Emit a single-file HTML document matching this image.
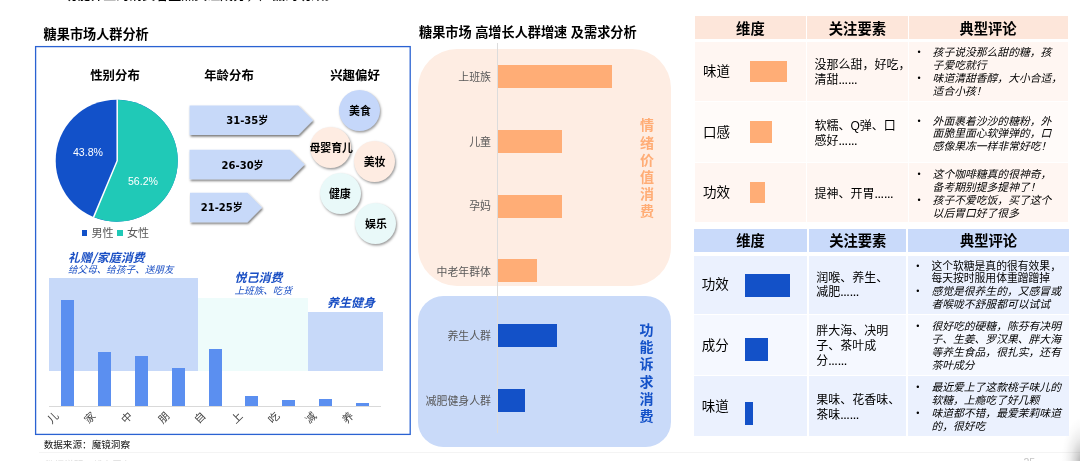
<!DOCTYPE html>
<html lang="zh-CN">
<head>
<meta charset="utf-8">
<title>糖果市场人群分析</title>
<style>
html,body{margin:0;padding:0}
body{width:1080px;height:461px;overflow:hidden;background:#fff;position:relative;
  font-family:"Liberation Sans","Noto Sans CJK SC",sans-serif;color:#000}
.a{position:absolute;white-space:nowrap;line-height:1}
.c{transform:translate(-50%,-50%)}
.r{transform:translate(-100%,-50%)}
.l{transform:translate(0,-50%)}
.b{font-weight:bold}
.i{font-style:italic}
.t13{font-size:13.15px;font-weight:bold}
.h12{font-size:12.4px;font-weight:bold}
.bar{position:absolute;background:#5b8ff0}
.xl{position:absolute;white-space:nowrap;line-height:1;font-size:10.8px;color:#444;transform:translate(-50%,-50%) rotate(-45deg)}
.circ{position:absolute;width:41px;height:41px;border-radius:50%;box-shadow:1px 1.5px 2.5px rgba(0,0,0,.4)}
.ct{font-size:10.9px;font-weight:bold}
.hb{position:absolute;left:498px;height:23px}
.hl{font-size:10.9px;color:#595959}
.vt{position:absolute;width:16px;text-align:center;font-weight:bold;font-size:14px;line-height:17.2px}

.td{position:absolute}
.hd{font-size:14.3px;font-weight:bold}
.d1{font-size:13.5px}
.d2{position:absolute;font-size:12px;line-height:14.8px;white-space:nowrap;transform:translate(0,-50%)}
.d2 em{font-style:normal;font-size:9.5px;font-weight:bold}
.d3{position:absolute;font-size:10.8px;line-height:12.85px;white-space:nowrap;transform:translate(0,-50%);font-style:italic}
.d3 u{position:absolute;left:-15.2px;text-decoration:none;font-style:normal;font-size:9px}
.d3 s{text-decoration:none;font-style:normal}

</style>
</head>
<body>
<!-- top clipped line -->
<div class="a" style="left:64.2px;top:-11.9px;font-size:13px;font-weight:500">功能养生的消费者重点关注成分，产品的功效。</div>

<!-- LEFT PANEL -->
<div class="a t13" style="left:43.6px;top:34.9px;transform:translate(0,-50%)">糖果市场人群分析</div>
<svg class="a" style="left:30px;top:40px" width="390" height="400" viewBox="30 40 390 400"><rect x="35.6" y="46.6" width="374.6" height="387.8" fill="none" stroke="#2a62d2" stroke-width="1.3"/></svg>

<div class="a c h12" style="left:115px;top:75.7px">性别分布</div>
<div class="a c h12" style="left:229px;top:75.7px">年龄分布</div>
<div class="a c h12" style="left:355px;top:75.7px">兴趣偏好</div>

<!-- pie -->
<svg class="a" style="left:50px;top:95px" width="135" height="135" viewBox="50 95 135 135">
  <circle cx="116.7" cy="160.7" r="61" fill="#1251c9"/>
  <path d="M117.2 160.7 L117.2 99.7 A61 61 0 1 1 93.6 217.1 Z" fill="#20c9b7"/>
  <path d="M117.2 99.2 L117.2 160.7 L93.4 217.6" fill="none" stroke="#fff" stroke-width="1.5"/>
</svg>
<div class="a c" style="left:88px;top:152.4px;font-size:10.6px;color:#fff">43.8%</div>
<div class="a c" style="left:143px;top:181.4px;font-size:10.6px;color:#fff">56.2%</div>
<div class="a" style="left:82px;top:230.2px;width:5.4px;height:5.4px;background:#1251c9"></div><div class="a l" style="left:91.4px;top:234.1px;font-size:11.1px;color:#595959">男性</div><div class="a" style="left:117.3px;top:230.2px;width:5.4px;height:5.4px;background:#20c9b7"></div><div class="a l" style="left:127px;top:234.1px;font-size:11.1px;color:#595959">女性</div>

<!-- arrows -->
<svg class="a" style="left:185px;top:100px" width="140" height="135" viewBox="185 100 140 135">
  <defs><filter id="sh" x="-10%" y="-10%" width="120%" height="140%"><feDropShadow dx="1" dy="1.6" stdDeviation="0.9" flood-color="#000" flood-opacity="0.55"/></filter></defs>
  <g fill="#c7d9f9" filter="url(#sh)">
    <path d="M189.5 105.5 L298.3 105.5 L313 120.2 L298.3 134.9 L189.5 134.9 Z"/>
    <path d="M189.5 149.7 L289.9 149.7 L304.6 164.5 L289.9 179.3 L189.5 179.3 Z"/>
    <path d="M190 192.8 L247.4 192.8 L262.1 207.5 L247.4 222.2 L190 222.2 Z"/>
  </g>
</svg>
<div class="a c b" style="left:247.3px;top:121.2px;font-size:10px;font-family:'DejaVu Sans','Noto Sans CJK SC',sans-serif">31-35岁</div>
<div class="a c b" style="left:242.6px;top:165.8px;font-size:10px;font-family:'DejaVu Sans','Noto Sans CJK SC',sans-serif">26-30岁</div>
<div class="a c b" style="left:221.8px;top:207.6px;font-size:10px;font-family:'DejaVu Sans','Noto Sans CJK SC',sans-serif">21-25岁</div>

<!-- circles -->
<div class="circ" style="left:339.3px;top:90.4px;background:#c5d7fa"></div>
<div class="circ" style="left:310.1px;top:127.0px;background:#feece2"></div>
<div class="circ" style="left:354.2px;top:141.2px;background:#feece2"></div>
<div class="circ" style="left:319.7px;top:172.7px;background:#e9f9f9"></div>
<div class="circ" style="left:355.4px;top:203.3px;background:#e9f9f9"></div>
<div class="a c ct" style="left:360px;top:111.2px">美食</div>
<div class="a c ct" style="left:331.2px;top:148px">母婴育儿</div>
<div class="a c ct" style="left:374.6px;top:162px">美妆</div>
<div class="a c ct" style="left:339.8px;top:193.5px">健康</div>
<div class="a c ct" style="left:376px;top:223.6px">娱乐</div>

<!-- bottom-left bar chart -->
<div class="a" style="left:49px;top:278.2px;width:149px;height:92.8px;background:#c7d9f9"></div>
<div class="a" style="left:198px;top:297.6px;width:110px;height:73.4px;background:#eefcfb"></div>
<div class="a" style="left:308px;top:312.4px;width:75px;height:58.2px;background:#c7d9f9"></div>
<div class="a" style="left:49.2px;top:405.6px;width:331.8px;height:1px;background:#d9d9d9"></div>
<div class="bar" style="left:61.0px;top:299.7px;width:13px;height:106.3px"></div>
<div class="bar" style="left:97.9px;top:352.0px;width:13px;height:54.0px"></div>
<div class="bar" style="left:134.8px;top:355.8px;width:13px;height:50.2px"></div>
<div class="bar" style="left:171.7px;top:368.0px;width:13px;height:38.0px"></div>
<div class="bar" style="left:208.5px;top:348.5px;width:13px;height:57.5px"></div>
<div class="bar" style="left:245.4px;top:395.8px;width:13px;height:10.2px"></div>
<div class="bar" style="left:282.2px;top:399.7px;width:13px;height:6.3px"></div>
<div class="bar" style="left:319.1px;top:399.2px;width:13px;height:6.8px"></div>
<div class="bar" style="left:356.0px;top:402.7px;width:13px;height:3.3px"></div>

<div class="a l b i" style="left:68px;top:257.4px;font-size:12px;color:#1a4fc4;font-family:'Noto Sans CJK SC',sans-serif">礼赠/家庭消费</div>
<div class="a l i" style="left:68px;top:269.5px;font-size:9.6px;color:#1a4fc4">给父母、给孩子、送朋友</div>
<div class="a l b i" style="left:234.5px;top:278.2px;font-size:12px;color:#1a4fc4">悦己消费</div>
<div class="a l i" style="left:234.5px;top:290.8px;font-size:9.6px;color:#1a4fc4">上班族、吃货</div>
<div class="a l b i" style="left:327px;top:303px;font-size:12px;color:#1a4fc4">养生健身</div>

<div class="xl" style="left:53.0px;top:418.2px">儿</div>
<div class="xl" style="left:89.8px;top:418.2px">家</div>
<div class="xl" style="left:126.7px;top:418.2px">中</div>
<div class="xl" style="left:163.6px;top:418.2px">朋</div>
<div class="xl" style="left:200.4px;top:418.2px">自</div>
<div class="xl" style="left:237.2px;top:418.2px">上</div>
<div class="xl" style="left:274.1px;top:418.2px">吃</div>
<div class="xl" style="left:310.9px;top:418.2px">减</div>
<div class="xl" style="left:347.8px;top:418.2px">养</div>

<div class="a l" style="left:43.7px;top:444.6px;font-size:9.6px;color:#111">数据来源：魔镜洞察</div>
<div class="a" style="left:39px;top:452px;width:1041px;height:1px;background:#f4f4f4"></div>
<div class="a" style="left:45px;top:459.8px;font-size:9.6px;color:#dcdcdc">数据说明：线上平台</div>
<div class="a" style="left:1023.5px;top:457.4px;font-size:10.5px;color:#c4c4c4">25</div>
<div class="a" style="left:1020px;top:401px;width:60px;height:60px;background:radial-gradient(ellipse 21px 46px at 62px 62px,rgba(0,0,0,.32) 0,rgba(0,0,0,.17) 30%,rgba(0,0,0,.07) 55%,rgba(0,0,0,.02) 80%,rgba(0,0,0,0) 100%)"></div>

<!-- MIDDLE PANEL -->
<div class="a t13" style="left:419px;top:32.9px;transform:translate(0,-50%)">糖果市场 高增长人群增速 及需求分析</div>
<div class="a" style="left:418.3px;top:48.8px;width:253px;height:237px;border-radius:39px;background:#feede3"></div>
<div class="a" style="left:418.3px;top:295.5px;width:253px;height:151.6px;border-radius:25.3px;background:#c9daf9"></div>
<div class="a" style="left:497.2px;top:43.3px;width:1px;height:389.5px;background:#dcdcdc"></div>

<div class="hb" style="top:64.8px;width:114px;background:#ffad76"></div>
<div class="hb" style="top:129.8px;width:63.6px;background:#ffad76"></div>
<div class="hb" style="top:194.5px;width:63.5px;background:#ffad76"></div>
<div class="hb" style="top:259.2px;width:39.3px;background:#ffad76"></div>
<div class="hb" style="top:323.6px;width:58.7px;background:#1351c8"></div>
<div class="hb" style="top:389px;width:26.7px;background:#1351c8"></div>

<div class="a r hl" style="left:491px;top:76.8px">上班族</div>
<div class="a r hl" style="left:491px;top:141.8px">儿童</div>
<div class="a r hl" style="left:491px;top:206.4px">孕妈</div>
<div class="a r hl" style="left:491px;top:271.5px">中老年群体</div>
<div class="a r hl" style="left:491px;top:336px">养生人群</div>
<div class="a r hl" style="left:491px;top:401px">减肥健身人群</div>

<div class="vt" style="left:639px;top:117.3px;color:#ffad76">情<br>绪<br>价<br>值<br>消<br>费</div>
<div class="vt" style="left:638.6px;top:322px;color:#1351c8">功<br>能<br>诉<br>求<br>消<br>费</div>

<!-- RIGHT PANEL placeholder -->
<div class="td" style="left:694.8px;top:15.6px;width:111.0px;height:23.1px;background:#fde6da"></div>
<div class="a c hd" style="left:750.4px;top:29.3px">维度</div>
<div class="td" style="left:806.9px;top:15.6px;width:100.9px;height:23.1px;background:#fde6da"></div>
<div class="a c hd" style="left:857.4px;top:29.3px">关注要素</div>
<div class="td" style="left:908.9px;top:15.6px;width:159.3px;height:23.1px;background:#fde6da"></div>
<div class="a c hd" style="left:988px;top:29.3px">典型评论</div>
<div class="td" style="left:694.8px;top:42.4px;width:111.0px;height:58.2px;background:#fff6f2"></div>
<div class="td" style="left:806.9px;top:42.4px;width:100.9px;height:58.2px;background:#fff6f2"></div>
<div class="td" style="left:908.9px;top:42.4px;width:159.3px;height:58.2px;background:#fff6f2"></div>
<div class="a l d1" style="left:703px;top:72.1px">味道</div>
<div class="td" style="left:749.8px;top:60.6px;width:37.5px;height:21.2px;background:#ffad76"></div>
<div class="d2" style="left:814.5px;top:73.3px">没那么甜，好吃，<br>清甜<em>……</em></div>
<div class="d3" style="left:932.6px;top:72.2px"><u>•</u>孩子说没那么甜的糖，孩<br>子爱吃就行<br><u>•</u>味道清甜香醇，大小合适，<br>适合小孩！</div>
<div class="td" style="left:694.8px;top:101.8px;width:111.0px;height:60.2px;background:#fffbf9"></div>
<div class="td" style="left:806.9px;top:101.8px;width:100.9px;height:60.2px;background:#fffbf9"></div>
<div class="td" style="left:908.9px;top:101.8px;width:159.3px;height:60.2px;background:#fffbf9"></div>
<div class="a l d1" style="left:703px;top:133.1px">口感</div>
<div class="td" style="left:749.8px;top:121.2px;width:22.5px;height:21.4px;background:#ffad76"></div>
<div class="d2" style="left:814.5px;top:133.8px">软糯、Q弹、口<br>感好<em>……</em></div>
<div class="d3" style="left:932.6px;top:133.6px"><u>•</u>外面裹着沙沙的糖粉，外<br>面脆里面心软弹弹的，口<br>感像果冻一样非常好吃！</div>
<div class="td" style="left:694.8px;top:163.1px;width:111.0px;height:59.3px;background:#fff6f2"></div>
<div class="td" style="left:806.9px;top:163.1px;width:100.9px;height:59.3px;background:#fff6f2"></div>
<div class="td" style="left:908.9px;top:163.1px;width:159.3px;height:59.3px;background:#fff6f2"></div>
<div class="a l d1" style="left:703px;top:193.4px">功效</div>
<div class="td" style="left:749.8px;top:181.5px;width:15.5px;height:21.5px;background:#ffad76"></div>
<div class="d2" style="left:814.5px;top:194.7px">提神、开胃<em>……</em></div>
<div class="d3" style="left:932.6px;top:194.1px"><u>•</u>这个咖啡糖真的很神奇，<br>备考期别提多提神了！<br><u>•</u>孩子不爱吃饭，买了这个<br>以后胃口好了很多</div>
<div class="td" style="left:693.8px;top:228.7px;width:113.6px;height:23.3px;background:#c9dafa"></div>
<div class="a c hd" style="left:750.6px;top:241.3px">维度</div>
<div class="td" style="left:808.6px;top:228.7px;width:97.9px;height:23.3px;background:#c9dafa"></div>
<div class="a c hd" style="left:857.8px;top:241.3px">关注要素</div>
<div class="td" style="left:907.7px;top:228.7px;width:161.8px;height:23.3px;background:#c9dafa"></div>
<div class="a c hd" style="left:988.5px;top:241.3px">典型评论</div>
<div class="td" style="left:693.8px;top:255.7px;width:113.6px;height:58.5px;background:#ebf1fe"></div>
<div class="td" style="left:808.6px;top:255.7px;width:97.9px;height:58.5px;background:#ebf1fe"></div>
<div class="td" style="left:907.7px;top:255.7px;width:161.8px;height:58.5px;background:#ebf1fe"></div>
<div class="a l d1" style="left:701.8px;top:285.4px">功效</div>
<div class="td" style="left:745.2px;top:273.9px;width:44.7px;height:22.8px;background:#1351c8"></div>
<div class="d2" style="left:816.2px;top:285.6px">润喉、养生、<br>减肥<em>……</em></div>
<div class="d3" style="left:931.4px;top:285.6px"><u>•</u><s>这个软糖是真的很有效果，<br>每天按时服用体重蹭蹭掉</s><br><u>•</u>感觉是很养生的，又感冒或<br>者喉咙不舒服都可以试试</div>
<div class="td" style="left:693.8px;top:315.4px;width:113.6px;height:59.4px;background:#f5f8ff"></div>
<div class="td" style="left:808.6px;top:315.4px;width:97.9px;height:59.4px;background:#f5f8ff"></div>
<div class="td" style="left:907.7px;top:315.4px;width:161.8px;height:59.4px;background:#f5f8ff"></div>
<div class="a l d1" style="left:701.8px;top:345.7px">成分</div>
<div class="td" style="left:745.2px;top:338px;width:22.8px;height:22.7px;background:#1351c8"></div>
<div class="d2" style="left:816.2px;top:347.4px">胖大海、决明<br>子、茶叶成<br>分<em>……</em></div>
<div class="d3" style="left:931.4px;top:346.1px"><u>•</u>很好吃的硬糖，陈芬有决明<br>子、生姜、罗汉果、胖大海<br>等养生食品，很扎实，还有<br>茶叶成分</div>
<div class="td" style="left:693.8px;top:376px;width:113.6px;height:59.6px;background:#ebf1fe"></div>
<div class="td" style="left:808.6px;top:376px;width:97.9px;height:59.6px;background:#ebf1fe"></div>
<div class="td" style="left:907.7px;top:376px;width:161.8px;height:59.6px;background:#ebf1fe"></div>
<div class="a l d1" style="left:701.8px;top:406.9px">味道</div>
<div class="td" style="left:745.2px;top:402px;width:7.9px;height:22.7px;background:#1351c8"></div>
<div class="d2" style="left:816.2px;top:407.9px">果味、花香味、<br>茶味<em>……</em></div>
<div class="d3" style="left:931.4px;top:407.0px"><u>•</u>最近爱上了这款桃子味儿的<br>软糖，上瘾吃了好几颗<br><u>•</u>味道都不错，最爱茉莉味道<br>的，很好吃</div>
</body>
</html>
